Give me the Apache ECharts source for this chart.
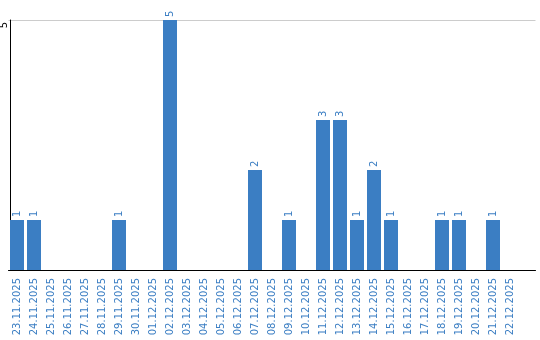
<!DOCTYPE html>
<html>
<head>
<meta charset="utf-8">
<script src="https://cdn.jsdelivr.net/npm/echarts@6/dist/echarts.min.js"></script>
<style>html,body{margin:0;padding:0;background:#fff;}#c{width:540px;height:340px;}</style>
</head>
<body>
<div id="c"></div>
<script>
var categories = ['23.11.2025','24.11.2025','25.11.2025','26.11.2025','27.11.2025','28.11.2025','29.11.2025','30.11.2025','01.12.2025','02.12.2025','03.12.2025','04.12.2025','05.12.2025','06.12.2025','07.12.2025','08.12.2025','09.12.2025','10.12.2025','11.12.2025','12.12.2025','13.12.2025','14.12.2025','15.12.2025','16.12.2025','17.12.2025','18.12.2025','19.12.2025','20.12.2025','21.12.2025','22.12.2025'];
var values = [1,1,0,0,0,0,1,0,0,5,0,0,0,0,2,0,1,0,3,3,1,2,1,0,0,1,1,0,1,0];
var yTicks = [0,5];

var blue = '#3b7ec3';
var chart = echarts.init(document.getElementById('c'));
chart.setOption({
  animation: false,
  backgroundColor: '#fff',
  grid: {left: 8.5, top: 20, width: 527, height: 250, containLabel: false, outerBoundsMode: 'none'},
  xAxis: {
    type: 'category',
    data: categories,
    max: categories.length,
    axisLine: {show: true, lineStyle: {color: '#000', width: 1}},
    axisTick: {show: false},
    splitLine: {show: false},
    axisLabel: {interval: 0, rotate: 90, margin: 8, color: blue, fontSize: 10, fontFamily: 'DejaVu Sans'}
  },
  yAxis: {
    type: 'value',
    min: yTicks[0], max: yTicks[1], interval: yTicks[1] - yTicks[0],
    offset: -1.5,
    axisLine: {show: true, lineStyle: {color: '#000', width: 1}},
    axisTick: {show: false},
    splitLine: {show: true, lineStyle: {color: '#cccccc', width: 1}},
    axisLabel: {showMinLabel: false, rotate: 90, margin: 6, align: 'right', verticalAlign: 'middle', padding: [0, 2, 0, 0], color: '#000', fontSize: 10, fontFamily: 'DejaVu Sans'}
  },
  series: [{
    type: 'bar',
    data: values,
    barWidth: 14,
    itemStyle: {color: blue},
    label: {
      show: true, position: 'top', rotate: 90, align: 'left', verticalAlign: 'middle', distance: 3,
      color: blue, fontSize: 10, fontFamily: 'DejaVu Sans',
      formatter: function (p) { return p.value > 0 ? String(p.value) : ''; }
    }
  }]
});
</script>
</body>
</html>
